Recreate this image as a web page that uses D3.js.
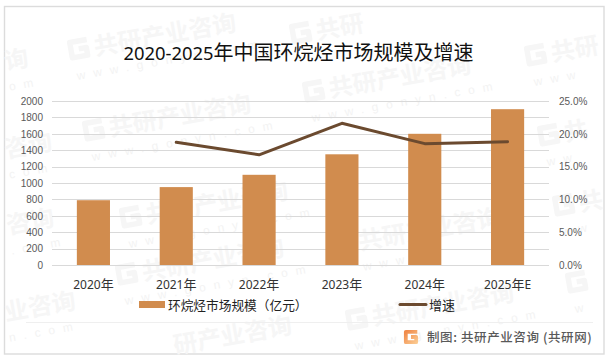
<!DOCTYPE html>
<html><head><meta charset="utf-8">
<script src="https://cdn.jsdelivr.net/npm/d3@7"></script>
<style>html,body{margin:0;padding:0;background:#fff}svg{display:block}</style>
</head><body><svg id="c" width="610" height="362"></svg>
<script>
const categories = ["2020年","2021年","2022年","2023年","2024年","2025年E"];
const marketSize = [790,950,1100,1350,1600,1900];
const growth = [null,18.7,16.8,21.6,18.5,18.8];
const leftTicks = [0,200,400,600,800,1000,1200,1400,1600,1800,2000];
const rightTicks = [0,5,10,15,20,25];
const title = "2020-2025年中国环烷烃市场规模及增速";
const seriesNames = ["环烷烃市场规模（亿元）","增速"];
const credit = "制图: 共研产业咨询 (共研网)";
// watermark anchor, main text, whether logo shown, url line shown
const watermarkSpots = [
 [70,60,"共研产业咨询",1,"www.gonyn.com"],[85,141,"共研产业咨询",1,"www.gonyn.com"],
 [292,44,"共研",1,""],[305,102,"共研产业咨询",1,"www.gonyn.com"],
 [527,66,"共研",1,"www"],[540,146,"共",1,"ww"],
 [6,70,"询",0,"om"],[6,158,"咨询",0,"com"],[8,234,"咨询",0,".com"],[6,321,"业咨询",0,"n.com"],
 [122,228,"共研产业咨询",1,"www.gonyn.com"],[118,285,"共研产业咨询",1,"www.gonyn.com"],
 [360,250,"共研产业咨询",0,"www.g"],[348,330,"共研产业咨询",1,"www.gonyn.com"],
 [555,216,"共",1,"ww"],[568,293,"",1,"w"],[175,354,"研产业咨询",0,""]
];

const font = "'Liberation Sans','Noto Sans CJK SC',sans-serif";
const cjk = "'Noto Sans CJK SC','Liberation Sans',sans-serif";
const svg = d3.select("#c");
const m = {l:52,r:549,t:101,b:265};

const defs = svg.append("defs");
const grad = defs.append("linearGradient").attr("id","lg").attr("x1",0).attr("x2",1).attr("y1",0).attr("y2",1);
grad.append("stop").attr("offset",0).attr("stop-color","#f08a4a");
grad.append("stop").attr("offset",1).attr("stop-color","#fbc98f");

function logo(g,x,y,s,stroke,w){
  g.append("path").attr("transform",`translate(${x},${y}) scale(${s})`)
   .attr("d","M.95 .13H.13V.87H.87V.5H.5").attr("fill","none")
   .attr("stroke",stroke).attr("stroke-width",w).attr("stroke-linejoin","round");
}
// mixed-script label: Latin runs a little smaller than CJK runs, as in the reference
function mixed(sel,str,size,latin){
  sel.text(null);
  (str.match(/[\x00-\x7f]+|[^\x00-\x7f]+/g)||[]).forEach(run=>{
    const isL=/^[\x00-\x7f]/.test(run);
    sel.append("tspan").attr("font-size",isL?latin:size).attr("font-family",isL?"'Noto Sans',sans-serif":cjk).text(run);
  });
}

svg.append("rect").attr("x",4.5).attr("y",6.5).attr("width",599.5).attr("height",347.5)
  .attr("fill","#fff").attr("stroke","#dcdcdc").attr("stroke-width",1.4);

// watermarks
const wm = svg.append("g");
watermarkSpots.forEach(([px,py,txt,hasLogo,url])=>{
  const g = wm.append("g").attr("transform",`translate(${px},${py}) rotate(-10)`);
  if(hasLogo) logo(g,0,-20,21,"#f6f6f6",.26);
  if(txt) g.append("text").attr("x",hasLogo?26:0).attr("y",0).attr("font-family",cjk).attr("font-weight",700)
    .attr("font-size",24).attr("fill","#f6f6f6").text(txt);
  if(url) g.append("text").attr("x",hasLogo?4:0).attr("y",21).attr("font-family",font)
    .attr("font-size",12).attr("letter-spacing",8).attr("fill","#f3f3f3").text(url);
});

const x = d3.scaleBand().domain(categories).range([m.l,m.r]).paddingInner(0.6).paddingOuter(0.3);
const y = d3.scaleLinear().domain([0,2000]).range([m.b,m.t]);
const y2 = d3.scaleLinear().domain([0,25]).range([m.b,m.t]);

svg.append("g").selectAll("line").data(leftTicks).join("line")
  .attr("x1",m.l).attr("x2",m.r).attr("y1",d=>Math.round(y(d))+.5).attr("y2",d=>Math.round(y(d))+.5)
  .attr("stroke","#d9d9d9").attr("stroke-width",1);

svg.append("g").selectAll("rect").data(marketSize).join("rect")
  .attr("x",(d,i)=>x(categories[i])).attr("width",x.bandwidth())
  .attr("y",d=>y(d)).attr("height",d=>m.b-y(d)).attr("fill","#d18c4e");

const line = d3.line().defined(d=>d!=null)
  .x((d,i)=>x(categories[i])+x.bandwidth()/2).y(d=>y2(d));
svg.append("path").attr("d",line(growth)).attr("fill","none")
  .attr("stroke","#6b4a2f").attr("stroke-width",3).attr("stroke-linecap","round").attr("stroke-linejoin","round");

const la = d3.axisLeft(y).tickValues(leftTicks).tickFormat(d3.format("d")).tickSize(0).tickPadding(9);
const ga = svg.append("g").attr("transform",`translate(${m.l},0)`).call(la);
const ra = d3.axisRight(y2).tickValues(rightTicks).tickSize(0).tickPadding(10).tickFormat(d=>d.toFixed(1)+"%");
const gr = svg.append("g").attr("transform",`translate(${m.r},0)`).call(ra);
[ga,gr].forEach(g=>{g.select(".domain").remove();
  g.selectAll("text").attr("font-family",font).attr("font-size",10).attr("fill","#595959");});

const xa = d3.axisBottom(x).tickSize(0).tickPadding(0);
const gx = svg.append("g").attr("transform",`translate(0,280)`).call(xa);
gx.select(".domain").remove();
gx.selectAll("text").attr("fill","#333").attr("dy","0.85em").each(function(d){mixed(d3.select(this),d,13,12);});

const tt = svg.append("text").attr("x",298.5).attr("y",60).attr("text-anchor","middle").attr("fill","#111");
mixed(tt,title,20,18.4);

// legend
svg.append("rect").attr("x",139).attr("y",301).attr("width",26).attr("height",7).attr("fill","#d18c4e");
svg.append("text").attr("x",168).attr("y",310).attr("font-family",cjk).attr("font-size",12.7).attr("fill","#222").text(seriesNames[0]);
svg.append("line").attr("x1",400).attr("x2",426).attr("y1",304.5).attr("y2",304.5)
  .attr("stroke","#6b4a2f").attr("stroke-width",3).attr("stroke-linecap","round");
svg.append("text").attr("x",429).attr("y",310).attr("font-family",cjk).attr("font-size",13).attr("fill","#222").text(seriesNames[1]);

// footer
svg.append("line").attr("x1",26).attr("x2",593).attr("y1",322.5).attr("y2",322.5).attr("stroke","#efefef");
logo(svg,404,330,14,"url(#lg)",.27);
svg.append("text").attr("x",427).attr("y",342).attr("font-family",cjk).attr("font-weight",500).attr("font-size",12.5).attr("letter-spacing",.6).attr("fill","#595959").text(credit);
</script></body></html>
